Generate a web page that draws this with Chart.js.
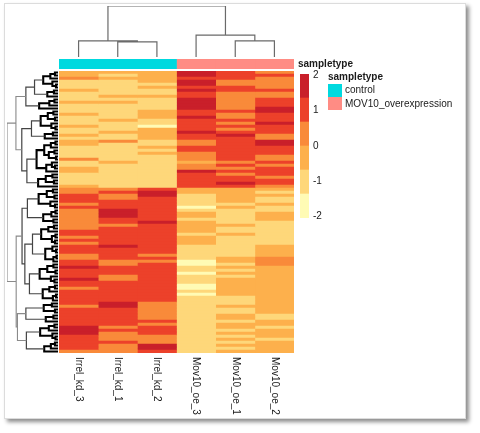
<!DOCTYPE html>
<html>
<head>
<meta charset="utf-8">
<script src="https://cdn.jsdelivr.net/npm/chart.js@4.4.1/dist/chart.umd.min.js"></script>
<style>
  body { margin: 0; width: 480px; height: 433px; overflow: hidden; background: #fff;
         font-family: "Liberation Sans", Arial, sans-serif; color: #1a1a1a; }
  #frame { position: absolute; left: 4px; top: 3px; width: 462px; height: 416px; box-sizing: border-box;
           background: #fff; border: 1px solid #dcdcdc; box-shadow: 3px 3px 4px rgba(0,0,0,0.45); }
  canvas { position: absolute; }
  .txt { position: absolute; font-size: 10px; line-height: 12px; white-space: nowrap; }
  .bold { font-weight: bold; }
  .key { position: absolute; width: 14px; height: 13px; }
</style>
</head>
<body>
<div id="frame"></div>
<canvas id="colTree" width="243" height="59" style="left:55px;top:2px"></canvas>
<canvas id="annot" width="243" height="10" style="left:55px;top:59px"></canvas>
<canvas id="rowTree" width="60" height="290" style="left:2px;top:67px"></canvas>
<canvas id="heat" width="243" height="350" style="left:55px;top:71px"></canvas>
<canvas id="scale" width="31" height="164" style="left:300px;top:64px"></canvas>

<div class="txt bold" style="left:298px;top:58px">sampletype</div>
<div class="txt bold" style="left:328px;top:71px">sampletype</div>
<div class="key" style="left:328px;top:84px;background:#00D9DF"></div>
<div class="key" style="left:328px;top:97px;background:#FF8C84"></div>
<div class="txt" style="left:345px;top:84px">control</div>
<div class="txt" style="left:345px;top:98px">MOV10_overexpression</div>

<script>
// samples (columns) in dendrogram order
const samples = ["Irrel_kd_3", "Irrel_kd_1", "Irrel_kd_2", "Mov10_oe_3", "Mov10_oe_1", "Mov10_oe_2"];
const sampleType = ["control", "control", "control", "MOV10_overexpression", "MOV10_overexpression", "MOV10_overexpression"];
const typeColors = { control: "#00D9DF", MOV10_overexpression: "#FF8C84" };

// scaled expression (z-scores), rows top to bottom in dendrogram order
const irrelKd3 = [
  -0.4, -0.3, 0.2, -0.9, -1.1, -0.8, -0.5, -1.0, -0.9, -1.2, -0.4, -0.8, -1.0, -0.9, -0.3, -1.1, -0.8, -1.0, -0.5, -0.9, -1.2, -0.4, -0.8,
  -0.3, -0.5, -1.0, -0.8, -1.1, -0.9, 0.3, -1.0, -0.8, -0.4, -0.5, -0.9, -1.1, -0.8, -1.0, -0.4,
  0.4, 0.5, 0.9, 1.1, 1.0, 0.5, 0.9, 0.6,
  0.4, 0.3, 0.5, 0.4, 0.6, 0.3, 0.9, 1.1, 0.5, 1.0, 0.6, 1.2, 0.9, 1.0, 0.5, 0.4, 1.1, 0.9, 1.5, 1.0, 1.2, 0.8, 1.6, 1.0,
  1.1, 0.5, 0.9, 1.2, 1.0, 0.9, 1.1, 0.6, 1.0, 0.9, 1.2, 1.0, 0.8, 1.1, 1.5, 1.7, 1.5, 1.0, 1.2, 0.9, 1.1, 1.0, 0.5
];
const irrelKd1 = [
  -0.5, -0.9, -0.4, -1.0, -1.1, -0.8, -0.9, -1.2, -0.3, -1.0, -0.5, -0.9, -1.1, -0.8, -1.0, -0.9, -0.3, -1.1, -0.8, -1.0, -0.4, -0.9, -0.8,
  0.2, -0.9, -1.0, -1.2, -0.8, -1.0, -0.9, -0.4, -1.1, -0.8, -1.0, -0.9, -1.2, -0.8, -1.0, -0.9,
  0.5, 0.9, 0.6, 0.4, 1.1, 1.0, 1.2, 1.5,
  1.6, 1.5, 1.1, 1.0, 0.6, 1.2, 0.9, 1.1, 1.0, 1.2, 1.1, 1.6, 1.0, 1.2, 0.9, 1.1, 0.5, 0.6, 1.0, 1.2, 0.9, 0.4, 0.6, 1.1,
  1.0, 1.2, 0.9, 1.1, 1.0, 1.2, 1.5, 1.6, 1.1, 0.9, 1.2, 1.0, 1.1, 0.9, 0.5, 1.0, 0.6, 0.4, 0.5, 0.9, 0.6, 0.3, 0.5
];
const irrelKd2 = [
  -0.4, -0.3, -0.5, -0.4, -0.9, -0.3, -1.0, -0.8, -0.5, -1.1, -0.9, -1.0, -0.8, -0.4, -0.3, -0.5, -1.0, -0.9, -1.5, -0.4, -0.5, -0.3, -0.4,
  -0.9, -1.0, -0.5, -1.1, -0.4, -0.9, -1.0, -0.8, -1.2, -0.9, -1.0, -1.1, -0.8, -1.0, -0.9, -1.1,
  1.1, 1.6, 1.5, 1.0, 1.2, 0.9, 1.1, 1.0,
  1.0, 1.2, 0.9, 1.5, 1.1, 1.0, 1.2, 0.9, 1.1, 1.0, 1.2, 0.9, 1.0, 1.1, 0.5, 1.0, 0.6, 0.9, 1.1, 1.0, 1.2, 0.9, 1.1, 1.0,
  1.1, 0.9, 1.0, 1.2, 1.0, 0.9, 0.5, 0.4, 0.6, 0.3, 0.5, 0.4, 0.9, 0.6, 1.0, 1.1, 0.9, 0.5, 0.4, 0.6, 1.5, 1.6, 1.0
];
const mov10Oe3 = [
  1.6, 1.7, 1.2, 1.5, 1.8, 1.1, 1.6, 1.0, 1.2, 1.5, 1.7, 1.6, 1.5, 1.2, 1.1, 1.6, 1.0, 0.9, 1.1, 1.2, 1.5, 1.0, 1.1,
  0.5, 0.6, 1.0, 1.1, 0.6, 0.5, 0.4, -0.3, 0.5, 0.6, 1.5, 1.1, 1.0, 1.2, 0.9, 1.1,
  -0.4, -0.5, -0.9, -1.0, -1.1, -0.9, -1.5, -1.0,
  -0.5, -0.4, -0.8, -0.5, -0.4, -0.6, -0.3, -0.9, -0.5, -0.4, -0.6, -1.0, -0.9, -1.1, -0.8, -1.2, -1.5, -1.6, -1.0, -0.9, -1.5, -1.1, -0.9, -1.0,
  -1.5, -1.6, -1.1, -1.5, -1.0, -0.9, -1.1, -1.0, -1.2, -0.9, -1.0, -1.1, -0.8, -1.0, -1.2, -0.9, -1.0, -1.1, -0.9, -1.0, -1.2, -0.9, -1.0
];
const mov10Oe1 = [
  1.1, 0.9, 1.0, 0.5, 0.6, 1.0, 1.2, 0.4, 0.5, 0.6, 0.4, 0.5, 0.3, 1.0, 0.6, 0.5, 0.9, 0.4, 1.1, 0.6, 1.0, 1.5, 1.2,
  1.0, 1.1, 0.9, 1.2, 1.0, 0.9, 1.1, 0.6, 1.0, 0.5, 1.2, 0.6, 0.9, 1.1, 1.5, 1.0,
  -0.4, -0.3, -0.5, -0.4, -0.5, -0.9, -0.4, -1.0,
  -0.9, -1.0, -1.1, -0.8, -0.5, -0.9, -1.0, -0.4, -1.1, -0.9, -1.0, -0.8, -1.1, -0.9, -1.0, -0.5, -0.4, -0.9, -0.5, -1.0, -0.4, -0.9, -0.5, -0.3,
  -0.4, -0.5, -0.3, -0.4, -0.9, -1.0, -0.8, -0.5, -1.0, -0.9, -0.4, -0.5, -1.1, -0.4, -0.3, -0.9, -0.5, -1.0, -0.4, -0.9, -0.5, -1.0, -0.4
];
const mov10Oe2 = [
  0.5, 1.0, 0.4, 0.6, 0.5, 0.3, 1.1, 0.5, 0.6, 1.0, 1.2, 0.9, 1.5, 1.6, 1.1, 1.0, 1.2, 1.5, 1.0, 1.1, 0.9, 0.5, 0.4,
  1.5, 1.6, 1.1, 1.0, 1.2, 0.5, 0.6, 1.0, 0.5, 1.1, 0.9, 1.2, 0.6, 1.0, 1.1, 0.5,
  -0.4, -0.9, -0.5, -1.0, -0.9, -0.4, -1.1, -0.9,
  -0.5, -0.4, -0.3, -0.9, -1.0, -0.8, -1.1, -0.9, -1.0, -0.8, -0.9, -0.4, -0.5, -0.3, -0.4, 0.3, 0.5, 0.4, -0.3, -0.5, -0.4, -0.3, -0.5, -0.4,
  -0.3, -0.5, -0.4, -0.3, -0.5, -0.4, -0.3, -0.5, -0.4, -0.3, -0.9, -1.0, -0.4, -0.5, -0.9, -0.3, -0.4, -0.5, -1.0, -0.3, -0.4, -0.5, -0.3
];
const expr = [irrelKd3, irrelKd1, irrelKd2, mov10Oe3, mov10Oe1, mov10Oe2];

// colour key
const palette = ["#FFFBB5", "#FED77A", "#FDB04C", "#F98A3A", "#EC412A", "#C91F2A"];
const breaks = [-2.04, -1.36, -0.68, 0, 0.68, 1.36, 2.04];
const keyTicks = [-2, -1, 0, 1, 2];

// row tree: [height, left, right], 0 = leaf (rows in order)
const t1 = [6.3,
  [4.6, [2.9, [1.5, [0.6, 0, 0], 0], [1.1, 0, [0.4, 0, 0]]], [2.1, [0.8, 0, 0], 0]],
  [3.7, [1.7, [0.7, 0, 0], 0], 0]];
const t2 = [7.1,
  [5.2, [3.4, [2.0, [0.9, 0, 0], [0.6, 0, 0]], [1.3, 0, [0.5, 0, 0]]], [2.6, [1.0, 0, 0], 0]],
  [6.1,
    [4.2, [2.7, [1.4, [0.5, 0, 0], 0], [1.8, [0.7, 0, 0], [0.4, 0, 0]]], [2.3, [1.2, 0, [0.6, 0, 0]], 0]],
    [3.9, [2.4, [1.1, 0, 0], [0.8, 0, 0]], 0]]];
const b1a = [6.0,
  [3.8, [2.2, [1.0, 0, 0], [0.7, 0, 0]], [1.5, 0, [0.6, 0, 0]]],
  [2.9, [1.3, [0.5, 0, 0], 0], [0.9, 0, 0]]];
const b1b = [6.5,
  [5.0,
    [3.3, [1.9, [0.8, 0, 0], 0], [1.2, [0.5, 0, 0], [0.6, 0, 0]]],
    [2.5, [1.1, 0, [0.4, 0, 0]], [0.9, [0.3, 0, 0], 0]]],
  [5.6,
    [3.6, [2.1, [0.9, 0, 0], [0.5, 0, 0]], [1.4, 0, [0.7, 0, 0]]],
    [3.0, [1.7, [0.6, 0, 0], 0], [1.0, [0.4, 0, 0], 0]]]];
const b2a = [6.3, [2.8, [1.2, 0, 0], [0.6, 0, 0]], [2.4, [0.9, 0, 0], 0]];
const b2b = [6.2,
  [3.5, [1.8, [0.7, 0, 0], 0], [1.1, 0, [0.5, 0, 0]]],
  [2.7, [1.4, [0.6, 0, 0], 0], 0]];
const rowTree = [10, [8.25, t1, t2], [8.2, [7.05, b1a, b1b], [7.95, b2a, b2b]]];
const colTree = [10, [3.15, 0, [2.95, 0, 0]], [4.3, 0, [3.15, 0, 0]]];

Chart.defaults.font.family = '"Liberation Sans", Arial, sans-serif';
Chart.defaults.animation = false;
Chart.defaults.responsive = false;
Chart.defaults.plugins.legend.display = false;
Chart.defaults.plugins.tooltip.enabled = false;

function binColor(v) {
  let k = 0;
  while (k < palette.length - 1 && v >= breaks[k + 1]) k++;
  return palette[k];
}

// walk the tree, leaves get positions 0.5, 1.5, ...
function treeNodes(tree) {
  const nodes = [];
  let leaf = 0;
  (function walk(n) {
    if (n === 0) { leaf++; return { pos: leaf - 0.5, h: 0 }; }
    const l = walk(n[1]), r = walk(n[2]);
    nodes.push({ h: n[0], l: l, r: r });
    return { pos: (l.pos + r.pos) / 2, h: n[0] };
  })(tree);
  return nodes;
}

function elbow(nodes, flip) {
  const pts = [];
  nodes.forEach(n => {
    [[n.l.h, n.l.pos], [n.h, n.l.pos], [n.h, n.r.pos], [n.r.h, n.r.pos]].forEach(([h, p]) => {
      pts.push(flip ? { x: p, y: h } : { x: h, y: p });
    });
    pts.push({ x: NaN, y: NaN });
  });
  return pts;
}

function lineSet(data, color, width) {
  return { data: data, showLine: true, borderColor: color, borderWidth: width, pointRadius: 0, spanGaps: false };
}

// column dendrogram
new Chart(document.getElementById("colTree"), {
  type: "scatter",
  data: { datasets: [lineSet(elbow(treeNodes(colTree), true), "#6a6a6a", 1.2)] },
  options: {
    layout: { padding: { left: 4, right: 4, top: 4, bottom: 4 } },
    scales: {
      x: { type: "linear", min: 0, max: samples.length, display: false },
      y: { type: "linear", min: 0, max: 10, display: false }
    }
  }
});

// row dendrogram, darker towards the leaves
const rowNodes = treeNodes(rowTree);
new Chart(document.getElementById("rowTree"), {
  type: "scatter",
  data: {
    datasets: [
      lineSet(elbow(rowNodes.filter(n => n.h >= 7.5)), "#8a8a8a", 1.1),
      lineSet(elbow(rowNodes.filter(n => n.h >= 4.5 && n.h < 7.5)), "#444444", 1.2),
      lineSet(elbow(rowNodes.filter(n => n.h < 4.5)), "#000000", 2.1)
    ]
  },
  options: {
    layout: { padding: { left: 5, right: 4, top: 4, bottom: 4 } },
    scales: {
      x: { type: "linear", min: 0, max: 10, reverse: true, display: false },
      y: { type: "linear", min: 0, max: irrelKd3.length, reverse: true, display: false }
    }
  }
});

// annotation bar
new Chart(document.getElementById("annot"), {
  type: "bar",
  data: {
    labels: ["sampletype"],
    datasets: samples.map((s, j) => ({
      label: s, data: [1], backgroundColor: typeColors[sampleType[j]],
      borderWidth: 0, barPercentage: 1, categoryPercentage: 1
    }))
  },
  options: {
    indexAxis: "y",
    layout: { padding: { left: 4, right: 4 } },
    scales: {
      x: { type: "linear", min: 0, max: samples.length, stacked: true, display: false },
      y: { stacked: true, display: false }
    }
  }
});

// heatmap cells, one stacked series per sample
const columnLabels = {
  id: "columnLabels",
  afterDraw(chart) {
    const { ctx, chartArea, scales } = chart;
    ctx.save();
    ctx.font = '10px "Liberation Sans", Arial, sans-serif';
    ctx.fillStyle = "#1a1a1a";
    ctx.textAlign = "left";
    ctx.textBaseline = "middle";
    samples.forEach((s, j) => {
      ctx.save();
      ctx.translate(scales.x.getPixelForValue(j + 0.5), chartArea.bottom + 4);
      ctx.rotate(Math.PI / 2);
      ctx.fillText(s, 0, 0);
      ctx.restore();
    });
    ctx.restore();
  }
};

new Chart(document.getElementById("heat"), {
  type: "bar",
  data: {
    labels: irrelKd3.map((v, i) => "gene" + (i + 1)),
    datasets: samples.map((s, j) => ({
      label: s,
      data: expr[j].map(() => 1),
      backgroundColor: expr[j].map(binColor),
      borderWidth: 0, barPercentage: 1, categoryPercentage: 1
    }))
  },
  options: {
    indexAxis: "y",
    layout: { padding: { left: 4, right: 4, top: 0, bottom: 68 } },
    scales: {
      x: { type: "linear", min: 0, max: samples.length, stacked: true, display: false },
      y: { stacked: true, display: false }
    }
  },
  plugins: [columnLabels]
});

// colour key
new Chart(document.getElementById("scale"), {
  type: "bar",
  data: {
    labels: [""],
    datasets: palette.map((c, k) => ({
      data: [[breaks[k], breaks[k + 1]]], backgroundColor: c, grouped: false,
      borderWidth: 0, barPercentage: 1, categoryPercentage: 1
    }))
  },
  options: {
    layout: { padding: { left: 0, right: 0, top: 8, bottom: 8 } },
    scales: {
      x: { display: false },
      y: {
        position: "right", min: breaks[0], max: breaks[breaks.length - 1],
        grid: { display: false, drawTicks: false }, border: { display: false },
        ticks: { font: { size: 10 }, color: "#1a1a1a", padding: 4 },
        afterBuildTicks: (s) => { s.ticks = keyTicks.map(v => ({ value: v })); },
        afterFit: (s) => { s.width = 22; }
      }
    }
  }
});
</script>
</body>
</html>
